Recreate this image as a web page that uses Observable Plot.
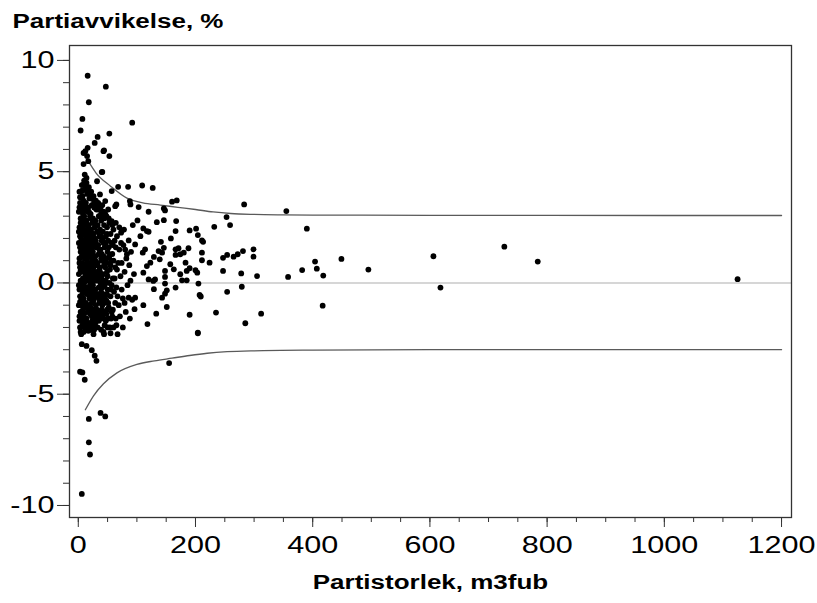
<!DOCTYPE html>
<html><head><meta charset="utf-8">
<script src="https://cdn.jsdelivr.net/npm/d3@7"></script>
<script src="https://cdn.jsdelivr.net/npm/@observablehq/plot@0.6"></script>
<style>
body{margin:0;background:#fff}
#chart svg{display:block}
</style>
</head><body><div id="chart"></div>
<script>
const yTitle = "Partiavvikelse, %";
const xTitle = "Partistorlek, m3fub";
const xMajorTicks = [0, 200, 400, 600, 800, 1000, 1200];
const xMinorTicks = [0,50,100,150,200,250,300,350,400,450,500,550,600,650,700,750,800,850,900,950,1000,1050,1100,1150,1200];
const yMajorTicks = [-10, -5, 0, 5, 10];
const yMinorTicks = [-10,-9,-8,-7,-6,-5,-4,-3,-2,-1,0,1,2,3,4,5,6,7,8,9,10];

// upper and lower limit curves [size, deviation]
const upperLimit = [[15,5.55],[17,5.47],[30,4.95],[55,4.35],[83,3.81],[110,3.6],[140,3.5],[170,3.4],[200,3.3],[230,3.19],[260,3.12],[300,3.08],[350,3.06],[400,3.05],[600,3.04],[800,3.04],[1000,3.03],[1200,3.03]];
const lowerLimit = [[12,-5.7],[26,-5.07],[43,-4.53],[66,-4.04],[100,-3.66],[130,-3.5],[160,-3.38],[190,-3.26],[220,-3.16],[254,-3.09],[300,-3.05],[400,-3.02],[600,-3.0],[800,-3.0],[1000,-3.0],[1200,-3.0]];

// dense cluster of small lots
const clusterPoints = [
[2,4.1],[3,3.6],[1,3.2],[4,2.9],[2,2.5],[3,2.1],[1,1.8],[4,1.4],[2,1.1],[3,0.7],[1,0.4],[4,0.1],[2,-0.3],[3,-0.6],[1,-1.0],[4,-1.3],[2,-1.7],[3,-2.0],
[6,4.4],[7,3.9],[5,3.5],[8,3.1],[6,2.7],[7,2.3],[5,2.0],[8,1.6],[6,1.2],[7,0.9],[5,0.5],[8,0.2],[6,-0.1],[7,-0.5],[5,-0.8],[8,-1.2],[6,-1.5],[7,-1.9],[5,-2.3],
[10,4.6],[11,4.2],[9,3.7],[12,3.3],[10,3.0],[11,2.6],[9,2.2],[12,1.9],[10,1.5],[11,1.1],[9,0.8],[12,0.4],[10,0.0],[11,-0.4],[9,-0.7],[12,-1.1],[10,-1.4],[11,-1.8],[9,-2.2],
[14,4.5],[15,4.0],[13,3.6],[16,3.2],[14,2.8],[15,2.4],[13,2.1],[16,1.7],[14,1.3],[15,1.0],[13,0.6],[16,0.3],[14,-0.2],[15,-0.5],[13,-0.9],[16,-1.3],[14,-1.6],[15,-2.0],
[18,4.3],[19,3.8],[17,3.4],[20,3.0],[18,2.6],[19,2.2],[17,1.8],[20,1.5],[18,1.2],[19,0.8],[17,0.4],[20,0.1],[18,-0.3],[19,-0.7],[17,-1.0],[20,-1.4],[18,-1.8],[19,-2.1],
[22,4.1],[23,3.5],[21,3.1],[24,2.7],[22,2.4],[23,2.0],[21,1.6],[24,1.3],[22,0.9],[23,0.5],[21,0.2],[24,-0.2],[22,-0.6],[23,-0.9],[21,-1.3],[24,-1.7],[22,-2.1],
[26,3.9],[27,3.4],[25,2.9],[28,2.5],[26,2.2],[27,1.8],[25,1.4],[28,1.0],[26,0.7],[27,0.3],[25,-0.1],[28,-0.4],[26,-0.8],[27,-1.2],[25,-1.5],[28,-1.9],[26,-2.3],
[30,3.7],[31,3.3],[29,2.8],[32,2.3],[30,1.9],[31,1.6],[29,1.2],[32,0.8],[30,0.5],[31,0.1],[29,-0.3],[32,-0.6],[30,-1.0],[31,-1.4],[29,-1.8],
[34,3.6],[35,3.0],[33,2.6],[36,2.1],[34,1.7],[35,1.3],[33,0.9],[36,0.6],[34,0.2],[35,-0.2],[33,-0.5],[36,-0.9],[34,-1.3],[35,-1.7],[33,-2.0],
[38,3.4],[39,2.8],[37,2.4],[40,1.9],[38,1.5],[39,1.1],[37,0.7],[40,0.3],[38,0.0],[39,-0.4],[37,-0.8],[40,-1.2],[38,-1.6],[39,-2.1],
[43,3.2],[44,2.6],[42,2.0],[45,1.6],[43,1.2],[44,0.8],[42,0.4],[45,-0.1],[43,-0.5],[44,-0.9],[42,-1.4],[45,-1.9],
[48,3.0],[49,2.5],[47,1.8],[50,1.4],[48,0.9],[49,0.5],[47,0.1],[50,-0.3],[48,-0.8],[49,-1.2],[47,-1.7],
[53,2.7],[55,2.2],[52,1.6],[56,1.0],[54,0.6],[53,0.0],[55,-0.6],[52,-1.1],[56,-1.6],[54,-2.0],
[60,2.4],[62,1.9],[58,1.3],[63,0.7],[59,0.2],[61,-0.4],[63,-0.9],[58,-1.5],
[66,2.1],[70,1.5],[68,0.9],[72,0.3],[65,-0.2],[69,-1.0],
[77,1.7],[82,1.1],[79,0.5],[84,-0.1],[76,-0.7],[81,-1.3],
[3,3.85],[2,3.4],[4,2.7],[1,2.3],[3,1.6],[2,0.9],[4,0.55],[1,-0.1],[3,-0.85],[2,-1.5],[4,-2.2],
[7,4.15],[6,3.3],[8,2.9],[5,2.5],[7,1.8],[6,1.4],[8,0.7],[5,0.0],[7,-0.3],[6,-1.0],[8,-1.7],
[11,4.4],[10,3.5],[12,2.8],[9,2.4],[11,1.7],[10,1.3],[12,0.6],[9,0.2],[11,-0.2],[10,-0.9],[12,-1.6],[11,-2.0],
[15,4.25],[14,3.4],[16,2.6],[13,2.3],[15,1.5],[14,0.8],[16,0.1],[13,-0.4],[15,-1.1],[14,-1.8],
[19,4.05],[18,3.2],[20,2.4],[17,2.0],[19,1.3],[18,0.6],[20,-0.1],[17,-0.5],[19,-1.2],[18,-2.0],
[23,3.8],[22,2.9],[24,2.2],[21,1.8],[23,1.1],[22,0.3],[24,-0.4],[21,-1.1],[23,-1.5],[22,-1.9],
[27,3.65],[26,2.7],[28,2.0],[25,1.6],[27,0.8],[26,0.1],[28,-0.6],[25,-1.3],[27,-2.1],
[31,3.5],[30,2.6],[32,1.7],[29,1.0],[31,0.3],[30,-0.5],[32,-1.2],[29,-1.6],
[35,3.3],[34,2.3],[36,1.5],[33,0.4],[35,-0.7],[34,-1.5],
[39,3.1],[38,2.1],[40,1.3],[37,0.5],[39,-0.6],[38,-1.4],
[44,2.9],[43,1.8],[45,1.0],[42,0.1],[44,-0.7],[43,-1.6],
[49,2.2],[48,1.1],[50,0.3],[49,-0.5],[48,-1.4],
[57,1.8],[55,0.8],[56,-0.3],[57,-1.3],
[41,3.5],[46,3.1],[52,2.9],[58,2.6],[64,2.7],[70,2.5],[78,2.4],[93,2.6],
[42,2.3],[47,2.1],[51,1.9],[59,1.7],[64,1.6],[73,1.8],[80,1.5],[90,1.4],
[41,1.0],[46,0.7],[53,1.2],[60,1.0],[66,0.6],[74,0.9],[87,0.8],[95,0.4],
[41,-0.2],[46,-0.6],[51,-0.9],[57,-0.1],[62,0.2],[67,-0.6],[74,-0.3],[89,0.1],
[41,-1.0],[46,-1.3],[51,-1.6],[59,-1.2],[64,-1.6],[71,-1.5],[79,-0.9],[88,-1.6],
[44,-2.3],[50,-2.0],[60,-2.0],[65,-1.9]
];

// high values near small lots
const upperPoints = [
[16,9.31],[47,8.82],[18,8.12],[7,7.37],[4,6.85],[92,7.2],[53,6.71],[33,6.56],[28,6.29],[16,6.07],[44,5.96],[43,5.92],[53,5.7],[12,5.92],[15,5.7],[9,5.34],[9,5.84],[17,5.47],
[41,4.99],[32,4.57],[68,4.32],[85,4.32],[11,4.87],[14,4.72],[40,4.98],[9,4.43],[17,4.27],[6,4.13],[20,3.98],[37,3.98],[57,4.13],[46,3.68],[65,3.53],[88,3.68],[51,3.3],[6,3.53],[28,3.38],[40,3.0],[57,2.78],[74,2.33],
[63,3.45],[89,3.53],[103,3.41],[101,2.81],[106,2.1],[73,2.26],[86,1.91],[97,1.73],[83,1.29]
];

// low values near small lots
const lowerPoints = [
[6,-9.48],[20,-7.71],[18,-7.16],[18,-6.11],[38,-5.84],[46,-6.0],[3,-3.99],[7,-4.02],[11,-4.35],[28,-3.27],[31,-3.5],[23,-3.02],[14,-2.83],[6,-2.75],[155,-3.6],
[43,-2.2],[55,-2.26],[67,-2.3],[204,-2.26],[17,-2.15],[17,-1.93],[76,-2.0],
[97,-0.66],[86,-0.66],[92,-0.76],[96,-1.18]
];

// medium lots
const midPoints = [
[109,4.38],[127,4.27],[160,3.65],[168,3.71],[146,3.35],[148,3.26],[120,3.2],[283,3.53],[253,2.96],[259,2.6],[232,2.52],[134,2.73],[146,2.82],[167,2.78],[117,2.33],[111,2.45],[166,2.33],[158,2.0],[190,2.36],[201,2.44],[204,2.15],[211,1.91],[213,1.85],[141,1.85],[146,1.58],[137,1.43],[143,1.36],[129,1.17],[114,1.51],[110,1.36],[166,1.51],[171,1.56],[180,1.36],[188,1.56],[166,1.26],[174,1.29],[211,1.36],[211,1.02],[224,0.91],[247,1.13],[254,1.26],[265,1.18],[272,1.29],[281,1.43],[299,1.51],[299,1.18],[183,0.91],[190,0.66],[200,0.57],[117,0.76],[111,0.46],[148,0.54],[148,0.27],[163,0.61],[174,0.39],[177,0.12],[185,0.12],[247,0.54],[278,0.43],[305,0.31],[131,0.16],[120,0.16],[148,-0.03],[205,-0.03],[129,-0.28],[166,-0.21],[279,-0.17],[148,-0.48],[143,-0.66],[207,-0.54],[209,-0.61],[254,-0.4],[111,-1.0],[151,-1.08],[133,-1.38],[190,-1.43],[235,-1.33],[312,-1.38],[118,-1.85],[285,-1.81],[204,-2.23],
[157,0.84],[123,0.91],[139,1.06],[185,0.54],[203,0.46],[151,-0.33],[128,0.09],[120,2.3]
];

// large lots
const largePoints = [
[355,3.23],[390,2.44],[404,0.96],[449,1.08],[382,0.58],[407,0.64],[418,0.33],[358,0.27],[495,0.6],[417,-1.02],[606,1.2],[727,1.63],[784,0.96],[618,-0.21],[1125,0.17]
];

const allPoints = [...clusterPoints, ...upperPoints, ...lowerPoints, ...midPoints, ...largePoints];
const fmt = d => String(d);

const chart = Plot.plot({
  width: 817,
  height: 603,
  marginLeft: 69,
  marginRight: 26,
  marginTop: 45,
  marginBottom: 86,
  x: {domain: [-15, 1217]},
  y: {domain: [-10.54, 10.67]},
  style: {fontFamily: "'Liberation Sans', Arial, sans-serif", color: "#000", background: "#fff", overflow: "visible"},
  marks: [
    Plot.ruleY([0], {stroke: "#c8c8c8", strokeWidth: 1.5}),
    Plot.line(upperLimit, {x: d => d[0], y: d => d[1], curve: "monotone-x", stroke: "#5a5a5a", strokeWidth: 1.3}),
    Plot.line(lowerLimit, {x: d => d[0], y: d => d[1], curve: "monotone-x", stroke: "#5a5a5a", strokeWidth: 1.3}),
    Plot.dot(allPoints, {x: d => d[0], y: d => d[1], r: 2.9, fill: "#000", stroke: "none"}),
    Plot.frame({stroke: "#333", strokeWidth: 1.3}),
    Plot.axisY(yMinorTicks, {tickSize: 6, tickFormat: () => "", label: null, stroke: "#333"}),
    Plot.axisY(yMajorTicks, {tickSize: 12, tickPadding: 3, tickFormat: fmt, label: null, fontSize: 23.5, stroke: "#333"}),
    Plot.axisX(xMinorTicks, {tickSize: 5, tickFormat: () => "", label: null, stroke: "#333"}),
    Plot.axisX(xMajorTicks, {tickSize: 10, tickPadding: 9, tickFormat: fmt, label: null, fontSize: 23.5, stroke: "#333"}),
    Plot.text([yTitle], {frameAnchor: "top-left", dx: -57, dy: -18, textAnchor: "start", lineAnchor: "bottom", fontWeight: "bold", fontSize: 20}),
    Plot.text([xTitle], {frameAnchor: "bottom", dy: 71, lineAnchor: "bottom", fontWeight: "bold", fontSize: 20})
  ]
});
document.getElementById("chart").appendChild(chart);

// horizontally widen the text like the original rendering
chart.querySelectorAll("text").forEach(t => {
  const len = t.getComputedTextLength();
  if (len > 0) {
    t.setAttribute("textLength", (len * 1.3).toFixed(1));
    t.setAttribute("lengthAdjust", "spacingAndGlyphs");
  }
});
</script>
</body></html>
